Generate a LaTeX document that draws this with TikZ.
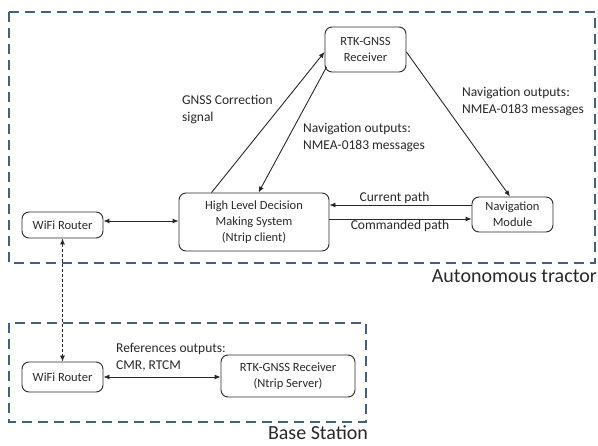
\documentclass[tikz,border=0pt]{standalone}
\usepackage{fontspec}
\setmainfont{Carlito}
\usetikzlibrary{arrows.meta}
\definecolor{frame}{RGB}{68,96,128}
\definecolor{ink}{RGB}{40,40,40}
\begin{document}
\begin{tikzpicture}[x=1pt,y=-1pt,
  block/.style={draw=ink, rounded corners=7pt, line width=0.9pt, align=center,
    inner sep=0pt, font=\fontsize{12.5}{16}\selectfont, text=ink},
  region/.style={draw=frame, line width=2.4pt, dash pattern=on 10pt off 6pt},
  tip/.tip={Latex[length=6pt,width=5pt]},
  link/.style={draw=ink, line width=0.9pt, -tip},
  biline/.style={draw=ink, line width=0.9pt, tip-tip},
  lbl/.style={font=\fontsize{13.5}{17}\selectfont, align=left, text=ink, inner sep=0pt},
  title/.style={font=\fontsize{20}{24}\selectfont, text=ink, inner sep=0pt},
]
\useasboundingbox (0,0) rectangle (598,446);

% dashed regions
\draw[region] (9,12) rectangle (595,263);
\draw[region] (9,323) rectangle (366,422);
\node[title, anchor=east] (ttractor) at (597,276) {Autonomous tractor};
\node[title, anchor=base] (tbase) at (318,440) {Base Station};

% blocks
\node[block, minimum width=81pt, minimum height=45pt] (rtk) at (365.5,49.5) {RTK-GNSS\\Receiver};
\node[block, minimum width=81pt, minimum height=35pt] (nav) at (512.5,214.5) {Navigation\\Module};
\node[block, minimum width=150pt, minimum height=58pt] (hl) at (254,222)
  {High Level Decision\\Making System\\(Ntrip client)};
\node[block, minimum width=81pt, minimum height=26pt] (wifiA) at (62.5,225) {WiFi Router};
\node[block, minimum width=81pt, minimum height=30pt] (wifiB) at (62.5,377) {WiFi Router};
\node[block, minimum width=134pt, minimum height=42pt] (srv) at (288,376)
  {RTK-GNSS Receiver\\(Ntrip Server)};

% connectors
\draw[biline] ([yshift=4pt]wifiA.east) -- ([yshift=4pt]wifiA.east -| hl.west);
\draw[biline, dash pattern=on 3pt off 2pt] (wifiA.south) -- (wifiB.north);
\draw[biline] (wifiB.east) -- (wifiB.east -| srv.west);
\draw[link] ([xshift=33pt]hl.north west) -- ([yshift=-2.5pt]rtk.west);
\draw[link] ([shift={(2pt,-17.5pt)}]rtk.west) -- ([xshift=80pt]hl.north west);
\draw[link] ([yshift=-2.5pt]rtk.east) -- ([xshift=-2.5pt]nav.north);
\draw[link] ([yshift=9.5pt]nav.west) -- ([yshift=9.5pt]nav.west -| hl.east);
\draw[link] ([yshift=-4.5pt]nav.west -| hl.east) -- ([yshift=-4.5pt]nav.west);

% labels
\node[lbl, anchor=west] (lcorr) at (182,109) {GNSS Correction\\signal};
\node[lbl, anchor=west] (lmid) at (303,137.5) {Navigation outputs:\\NMEA-0183 messages};
\node[lbl, anchor=west] (lright) at (462,101.5) {Navigation outputs:\\NMEA-0183 messages};
\node[lbl] (lcur) at (394.5,198) {Current path};
\node[lbl] (lcmd) at (400,226) {Commanded path};
\node[lbl, anchor=west] (lref) at (116,357) {References outputs:\\CMR, RTCM};
\end{tikzpicture}
\end{document}
